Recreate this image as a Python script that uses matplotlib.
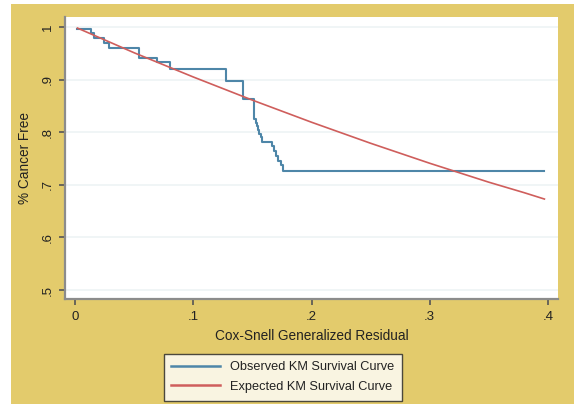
import matplotlib
matplotlib.use("Agg")
import matplotlib.pyplot as plt
from matplotlib.patches import Rectangle

plt.rcParams['font.family'] = ['Liberation Sans', 'DejaVu Sans']

# observed Kaplan-Meier curve (step points)
obs_x = [0.002, 0.0135, 0.016, 0.0245, 0.029, 0.054, 0.069, 0.080, 0.128,
         0.142, 0.151, 0.152, 0.153, 0.154, 0.155, 0.156, 0.157, 0.158,
         0.159, 0.160, 0.167, 0.168, 0.170, 0.172, 0.174, 0.176, 0.178, 0.397]
obs_y = [0.996, 0.989, 0.979, 0.970, 0.961, 0.942, 0.934, 0.920, 0.897,
         0.864, 0.825, 0.825, 0.818, 0.811, 0.804, 0.797, 0.790, 0.782,
         0.782, 0.782, 0.773, 0.764, 0.755, 0.746, 0.737, 0.727, 0.727, 0.727]

# expected curve
exp_x = [0.002, 0.05, 0.1, 0.15, 0.2, 0.25, 0.3, 0.35, 0.38, 0.397]
exp_y = [0.998, 0.951, 0.905, 0.861, 0.819, 0.779, 0.741, 0.705, 0.685, 0.673]

yticks = [0.5, 0.6, 0.7, 0.8, 0.9, 1.0]
ylabels = ['.5', '.6', '.7', '.8', '.9', '1']
xticks = [0, 0.1, 0.2, 0.3, 0.4]
xlabels = ['0', '.1', '.2', '.3', '.4']

fig = plt.figure(figsize=(5.74, 4.07), dpi=100)
fig.patch.set_facecolor('white')
fig.patches.append(Rectangle((11 / 574, 3 / 407), 563 / 574, 400 / 407,
                             transform=fig.transFigure, facecolor='#E3CB6C',
                             edgecolor='none', zorder=-10))

ax = fig.add_axes([65 / 574, 1 - 299 / 407, 493 / 574, 282 / 407])
ax.set_facecolor('white')

for v in yticks:
    ax.axhline(v, color='#EEF4F5', lw=1.2, zorder=1)

ax.step(obs_x, obs_y, where='post', color='#4E86A8', lw=1.5,
        label='Observed KM Survival Curve', zorder=3)
ax.plot(exp_x, exp_y, color='#CF5E5C', lw=1.2,
        label='Expected KM Survival Curve', zorder=4)

ax.set_xlim(-0.0085, 0.4085)
ax.set_ylim(0.483, 1.019)
ax.set_xticks(xticks)
ax.set_xticklabels(xlabels)
ax.set_yticks(yticks)
ax.set_yticklabels(ylabels, rotation=90, va='center')

for s in ['top', 'right']:
    ax.spines[s].set_visible(False)
for s in ['left', 'bottom']:
    ax.spines[s].set_color('#8C8C8C')
    ax.spines[s].set_linewidth(1.6)

ax.tick_params(axis='both', colors='#555555', length=4, width=1.2,
               labelsize=9.5, labelcolor='#222222')
ax.tick_params(axis='x', pad=5)
ax.tick_params(axis='y', pad=4)

ax.set_xlabel('Cox-Snell Generalized Residual', fontsize=9.8, color='#222222',
              labelpad=4)
ax.set_ylabel('% Cancer Free', fontsize=9.8, color='#222222', labelpad=7)

leg = fig.legend(loc='center', bbox_to_anchor=(283 / 574, 1 - 377 / 407),
                 fontsize=9.2, frameon=True, fancybox=False, handlelength=3.8,
                 borderpad=0.6, labelspacing=0.6, handletextpad=0.8)
leg.get_frame().set_edgecolor('#222222')
leg.get_frame().set_linewidth(1.0)
for t in leg.get_texts():
    t.set_color('#222222')
for line in leg.get_lines():
    line.set_linewidth(1.8)

fig.savefig('out.png', dpi=100)
